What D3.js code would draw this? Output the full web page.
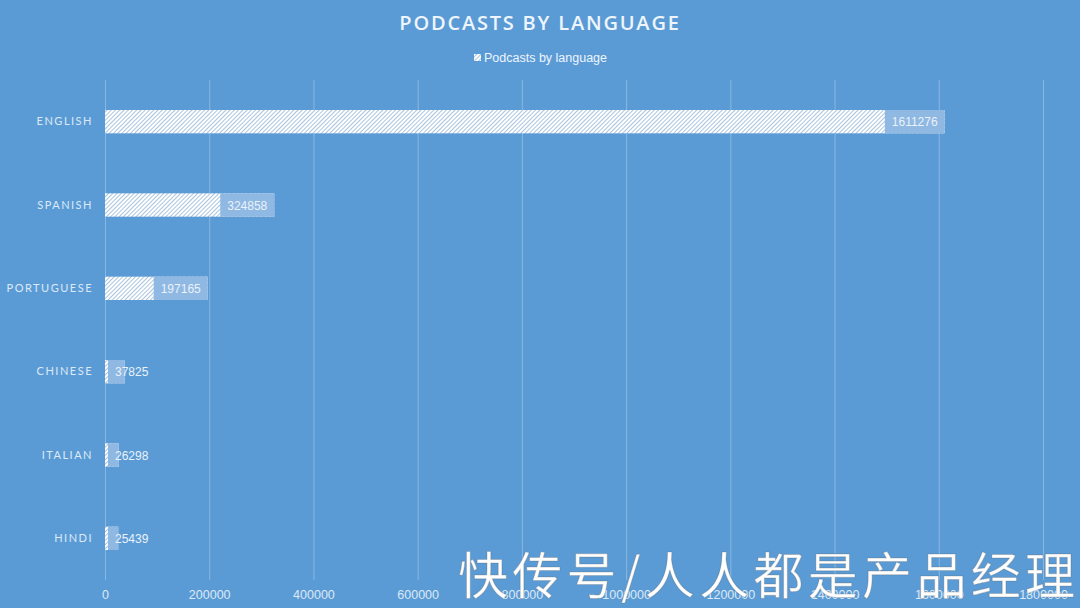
<!DOCTYPE html>
<html><head><meta charset="utf-8">
<script src="https://cdn.jsdelivr.net/npm/d3@7"></script>
<style>
html,body{margin:0;padding:0;background:#5b9bd5;}
svg{display:block;}
</style></head>
<body>
<svg id="chart" width="1080" height="608"></svg>
<script>
const categories = ["ENGLISH","SPANISH","PORTUGUESE","CHINESE","ITALIAN","HINDI"];
const values = [1611276, 324858, 197165, 37825, 26298, 25439];
const tickValues = [0,200000,400000,600000,800000,1000000,1200000,1400000,1600000,1800000];
const title = "PODCASTS BY LANGUAGE";
const seriesName = "Podcasts by language";
const watermark = "快传号/人人都是产品经理";

const svg = d3.select("#chart");
const W = 1080, H = 608;
const m = {left:105, right:37, top:80, bottom:28};

svg.append("rect").attr("width",W).attr("height",H).attr("fill","#5b9bd5");

const defs = svg.append("defs");
const pat = defs.append("pattern").attr("id","hatch").attr("patternUnits","userSpaceOnUse")
  .attr("width",3).attr("height",3).attr("patternTransform","rotate(45)");
pat.append("rect").attr("width",3).attr("height",3).attr("fill","#ffffff");
pat.append("rect").attr("x",0).attr("width",1).attr("height",3).attr("fill","#a9c4de");

const x = d3.scaleLinear().domain([0,1800000]).range([m.left, W-m.right]);
const y = d3.scaleBand().domain(categories).range([m.top, H-m.bottom]).paddingInner(0.72).paddingOuter(0.36);

// gridlines
svg.append("g").selectAll("line").data(tickValues).join("line")
  .attr("x1",d=>x(d)+0.5).attr("x2",d=>x(d)+0.5)
  .attr("y1",m.top).attr("y2",H-m.bottom)
  .attr("stroke","rgba(255,255,255,0.28)").attr("stroke-width",1);

// x axis labels
const xAxis = d3.axisBottom(x).tickValues(tickValues).tickSize(0).tickPadding(10).tickFormat(d3.format("d"));
const gx = svg.append("g").attr("transform",`translate(0,${H-m.bottom})`).call(xAxis);
gx.select(".domain").remove();
gx.selectAll("text").attr("fill","#dce9f6").attr("font-family","'Liberation Sans', Arial, sans-serif").attr("font-size",12.5);

// y axis labels
const yAxis = d3.axisLeft(y).tickSize(0).tickPadding(12);
const gy = svg.append("g").attr("transform",`translate(${m.left},0)`).call(yAxis);
gy.select(".domain").remove();
gy.selectAll("text").attr("fill","#dce9f6").attr("font-family","Lato, 'Open Sans', sans-serif")
  .attr("font-size",11).attr("letter-spacing","1.5px");

// bars
const bars = svg.append("g");
bars.selectAll("rect").data(values).join("rect")
  .attr("x",x(0)).attr("y",(d,i)=>y(categories[i]))
  .attr("width",d=>x(d)-x(0)).attr("height",y.bandwidth())
  .attr("fill","url(#hatch)");

// labels with boxes
const lab = svg.append("g");
values.forEach((v,i)=>{
  const g = lab.append("g");
  const t = g.append("text").text(v).attr("font-family","'Liberation Sans', Arial, sans-serif")
    .attr("font-size",12).attr("fill","#eaf2fa");
  const tw = t.node().getComputedTextLength();
  const boxW = tw + 14;
  const xe = x(v);
  const bs = Math.max(x(0)+3, xe - boxW);
  g.insert("rect","text").attr("x",bs).attr("y",y(categories[i])).attr("width",xe-bs).attr("height",y.bandwidth())
    .attr("fill","#8fb8e2");
  t.attr("x",bs+7).attr("y",y(categories[i])+y.bandwidth()/2+4.5);
});

// title
svg.append("text").attr("x",540).attr("y",30).attr("text-anchor","middle")
  .attr("font-family","'Open Sans', 'Noto Sans', sans-serif").attr("font-weight","600")
  .attr("font-size",20).attr("letter-spacing","1.8px").attr("fill","#eef5fc").text(title);

// legend
const lg = svg.append("g");
lg.append("rect").attr("x",474).attr("y",54).attr("width",7).attr("height",7).attr("fill","url(#hatch)");
lg.append("text").attr("x",484).attr("y",62).attr("font-family","'Liberation Sans', Arial, sans-serif")
  .attr("font-size",12.5).attr("fill","#eef5fc").text(seriesName);

// watermark
svg.append("text").attr("x",458).attr("y",594)
  .attr("font-family","'Noto Sans CJK SC', sans-serif").attr("font-size",50)
  .attr("fill","#ffffff").attr("stroke","rgba(80,80,80,0.25)").attr("stroke-width",1)
  .attr("textLength",617).text(watermark);
</script>
</body></html>
